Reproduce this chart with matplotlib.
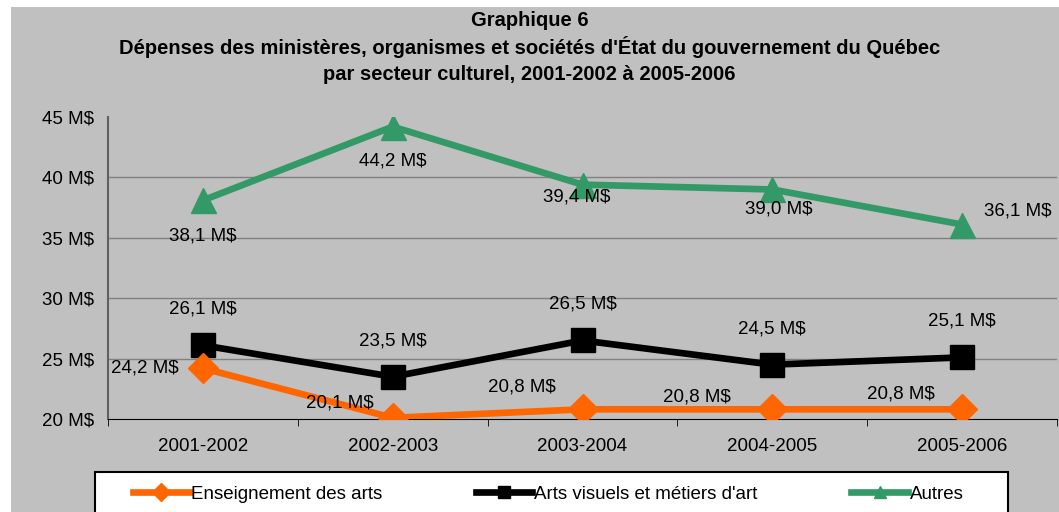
import matplotlib
matplotlib.use("Agg")
import matplotlib.pyplot as plt
from matplotlib.patches import Rectangle
from matplotlib.lines import Line2D

plt.rcParams['font.family'] = ['Liberation Sans', 'DejaVu Sans']

categories = ["2001-2002", "2002-2003", "2003-2004", "2004-2005", "2005-2006"]
enseignement = [24.2, 20.1, 20.8, 20.8, 20.8]
arts_visuels = [26.1, 23.5, 26.5, 24.5, 25.1]
autres = [38.1, 44.2, 39.4, 39.0, 36.1]
yticks = [20, 25, 30, 35, 40, 45]

W, H = 1059, 512
fig = plt.figure(figsize=(W / 100, H / 100), dpi=100)
fig.patch.set_facecolor('white')
bg = Rectangle((11 / W, 0), (W - 11) / W, (H - 7) / H, transform=fig.transFigure,
               facecolor='#C0C0C0', edgecolor='none', zorder=-10)
fig.patches.append(bg)

left, right, top, bottom = 108, 1057, 117, 419
ax = fig.add_axes([left / W, 1 - bottom / H, (right - left) / W, (bottom - top) / H])
ax.set_facecolor('none')

fs = 13.5
x = list(range(len(categories)))
c_orange = '#FF6600'
c_green = '#339966'
lw = 4.8
ax.plot(x, autres, color=c_green, lw=lw, marker='^', ms=18, label='Autres', zorder=3)
ax.plot(x, arts_visuels, color='black', lw=lw, marker='s', ms=17, label="Arts visuels et métiers d'art", zorder=4)
ax.plot(x, enseignement, color=c_orange, lw=lw, marker='D', ms=15, label='Enseignement des arts', zorder=5)

ax.set_xlim(-0.5, len(categories) - 0.5)
ax.set_ylim(20, 45)
ax.set_yticks(yticks)
ax.set_yticklabels([f"{v} M$" for v in yticks], fontsize=fs)
ax.set_xticks(x)
ax.set_xticklabels(categories, fontsize=fs)
ax.set_xticks([i - 0.5 for i in range(len(categories) + 1)], minor=True)
ax.tick_params(axis='x', which='major', length=0, pad=14)
ax.tick_params(axis='x', which='minor', length=5, direction='out', color='black')
ax.tick_params(axis='y', length=0, pad=10)
for v in yticks[1:-1]:
    ax.axhline(v, color='#808080', lw=1, zorder=1)
for s in ['top', 'right']:
    ax.spines[s].set_visible(False)
ax.spines['left'].set_color('#606060')
ax.spines['left'].set_linewidth(1.5)
ax.spines['bottom'].set_color('black')

def fmt(v):
    return f"{v:.1f}".replace('.', ',') + " M$"

aut_off = [(0, -26), (0, -25), (-4, -9), (5, -14), (40, 10)]
for i, v in enumerate(autres):
    dx, dy = aut_off[i]
    ax.annotate(fmt(v), (i, v), xytext=(dx, dy), textcoords='offset points',
                ha='center', va='center', fontsize=fs, annotation_clip=False, zorder=6)
for i, v in enumerate(arts_visuels):
    ax.annotate(fmt(v), (i, v), xytext=(0, 26), textcoords='offset points',
                ha='center', va='center', fontsize=fs, zorder=6)
ens_off = [(-42, 0), (-38, 11), (-44, 16), (-54, 9), (-44, 11)]
for i, v in enumerate(enseignement):
    dx, dy = ens_off[i]
    ax.annotate(fmt(v), (i, v), xytext=(dx, dy), textcoords='offset points',
                ha='center', va='center', fontsize=fs, zorder=6)

tfs = 14.5
fig.text(0.5, 1 - 20 / H, "Graphique 6", ha='center', va='center', fontsize=tfs, fontweight='bold')
fig.text(0.5, 1 - 47 / H, "Dépenses des ministères, organismes et sociétés d'État du gouvernement du Québec",
         ha='center', va='center', fontsize=tfs, fontweight='bold')
fig.text(0.5, 1 - 75 / H, "par secteur culturel, 2001-2002 à 2005-2006",
         ha='center', va='center', fontsize=tfs, fontweight='bold')

lb = Rectangle((95 / W, -0.05), (1008 - 95) / W, (H - 472) / H + 0.05, transform=fig.transFigure,
               facecolor='white', edgecolor='black', lw=1.5, zorder=-5)
fig.patches.append(lb)
handles, labels = ax.get_legend_handles_labels()
order = [2, 1, 0]
hs = []
for i in order:
    h = handles[i]
    hs.append(Line2D([], [], color=h.get_color(), lw=lw, marker=h.get_marker(), ms=9))
leg = fig.legend(hs, [labels[i] for i in order], ncol=3, loc='center left',
                 bbox_to_anchor=(133 / W, 1 - 494 / H), frameon=False, fontsize=fs,
                 handlelength=3.0, handletextpad=0.1, columnspacing=5.0, borderaxespad=0,
                 borderpad=0)

fig.savefig("out.png", dpi=100, facecolor=fig.get_facecolor())
